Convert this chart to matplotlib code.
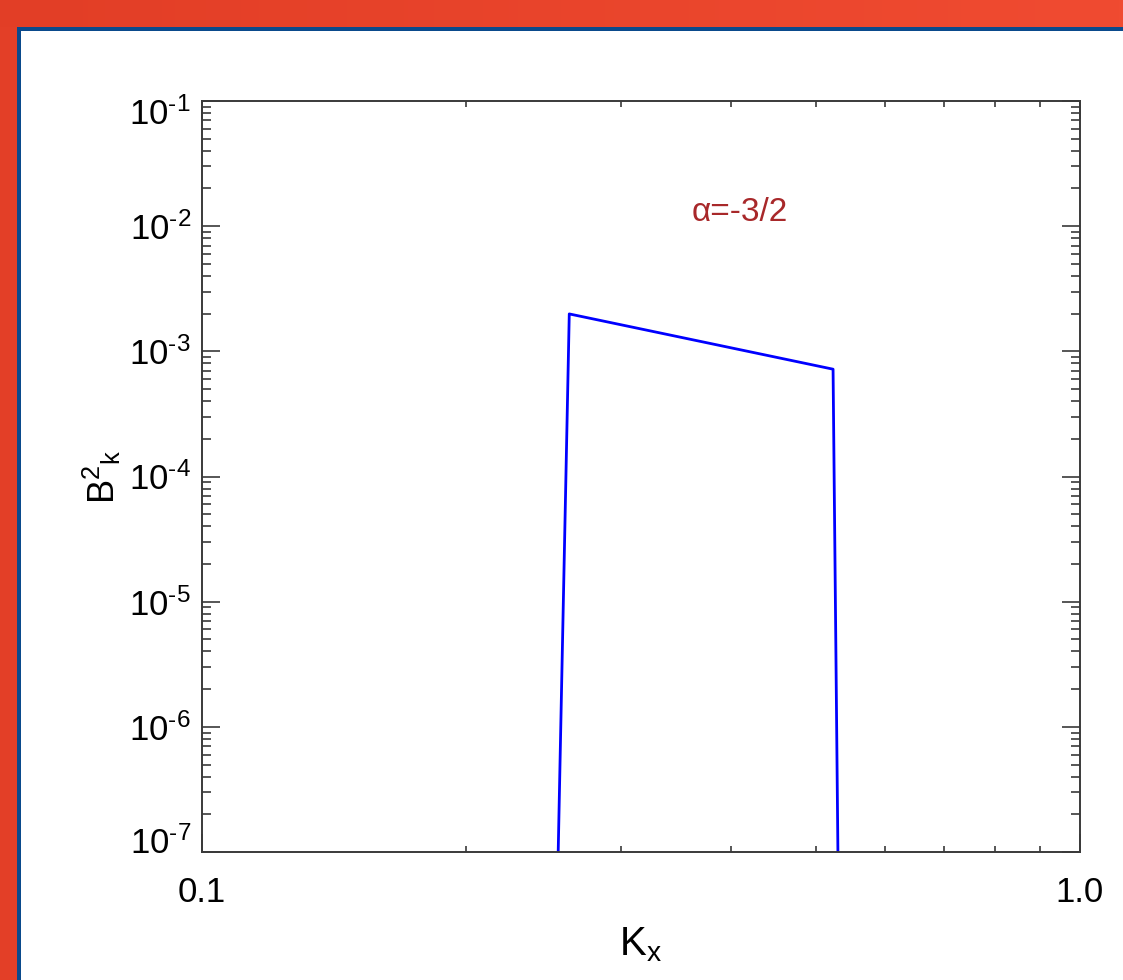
import numpy as np
import matplotlib
matplotlib.use('Agg')
import matplotlib.pyplot as plt
from matplotlib.patches import Rectangle
from matplotlib.colors import LinearSegmentedColormap
from matplotlib.ticker import FixedLocator, NullFormatter
import matplotlib.transforms as mtrans

plt.rcParams['font.family'] = ['Liberation Sans', 'DejaVu Sans']
plt.rcParams['mathtext.fontset'] = 'custom'
plt.rcParams['mathtext.rm'] = 'Liberation Sans'
plt.rcParams['mathtext.it'] = 'Liberation Sans:italic'

# spectrum: k^-3/2 band between two sharp cut-offs
kx = [0.2545, 0.262, 0.5233, 0.530]
bk2 = [1e-7, 1.99e-3, 7.2e-4, 1e-7]

ymajor = [1e-7, 1e-6, 1e-5, 1e-4, 1e-3, 1e-2, 1e-1]
ylabels = [r'$\mathregular{10^{\text{-}%d}}$' % i for i in range(7, 0, -1)]
xmajor = [0.1, 1.0]
xlabels = ['0.1', '1.0']
xminor = [0.2, 0.3, 0.4, 0.5, 0.6, 0.7, 0.8, 0.9]

W, H = 1123, 980
fig = plt.figure(figsize=(W/100., H/100.), dpi=100)
fig.patch.set_facecolor('white')

# frame: red band along top and left, thin blue rule inside it
top_h = 27./H
left_w = 17./W
band = fig.add_axes([0, 1-top_h, 1, top_h])
g = np.linspace(0, 1, 256).reshape(1, -1)
cm = LinearSegmentedColormap.from_list('band', ['#E23E26', '#F04B31'])
band.imshow(g, aspect='auto', cmap=cm, extent=[0, 1, 0, 1])
band.axis('off')
fig.add_artist(Rectangle((0, 0), left_w, 1-top_h, transform=fig.transFigure,
                         facecolor='#E33F27', edgecolor='none'))
fig.add_artist(Rectangle((left_w, 0), 4./W, 1-top_h, transform=fig.transFigure,
                         facecolor='#0A4A8C', edgecolor='none'))
fig.add_artist(Rectangle((left_w, 1-top_h-4./H), 1-left_w, 4./H, transform=fig.transFigure,
                         facecolor='#0A4A8C', edgecolor='none'))

ax = fig.add_axes([202./W, (H-852.)/H, 878./W, 751./H])
ax.plot(kx, bk2, color='#0000FF', lw=2.0)
ax.set_xscale('log')
ax.set_yscale('log')
ax.set_xlim(0.1, 1.0)
ax.set_ylim(1e-7, 1e-1)

ax.xaxis.set_major_locator(FixedLocator(xmajor))
ax.set_xticklabels(xlabels)
ax.xaxis.set_minor_locator(FixedLocator(xminor))
ax.xaxis.set_minor_formatter(NullFormatter())
ax.yaxis.set_major_locator(FixedLocator(ymajor))
ax.set_yticklabels(ylabels)
yminor = [m*10.**e for e in range(-7, -1) for m in range(2, 10)]
ax.yaxis.set_minor_locator(FixedLocator(yminor))
ax.yaxis.set_minor_formatter(NullFormatter())

axcol = '#3a3a3a'
for s in ax.spines.values():
    s.set_color(axcol)
    s.set_linewidth(1.4)
ax.tick_params(which='both', direction='in', top=True, right=True, color=axcol, width=1.2)
ax.tick_params(axis='y', which='major', length=13, labelsize=25, pad=8)
ax.tick_params(axis='y', which='minor', length=6.5)
ax.tick_params(axis='x', which='major', length=13, labelsize=25, pad=17)
ax.tick_params(axis='x', which='minor', length=4.3)

# keep end labels inside the axis range
yl = ax.get_yticklabels()
yl[0].set_transform(yl[0].get_transform() + mtrans.ScaledTranslation(0, 12/100., fig.dpi_scale_trans))
yl[-1].set_transform(yl[-1].get_transform() + mtrans.ScaledTranslation(0, -10/100., fig.dpi_scale_trans))

ax.set_xlabel(r'$\mathregular{K_x}$', fontsize=29, labelpad=12)
ax.set_ylabel(r'$\mathregular{B^2{}_k}$', fontsize=26, labelpad=4)

ax.text(0.613, 0.852, 'α=-3/2', transform=ax.transAxes, color='#A8282A',
        fontsize=24, ha='center', va='center')

fig.savefig('out.png', dpi=100)
